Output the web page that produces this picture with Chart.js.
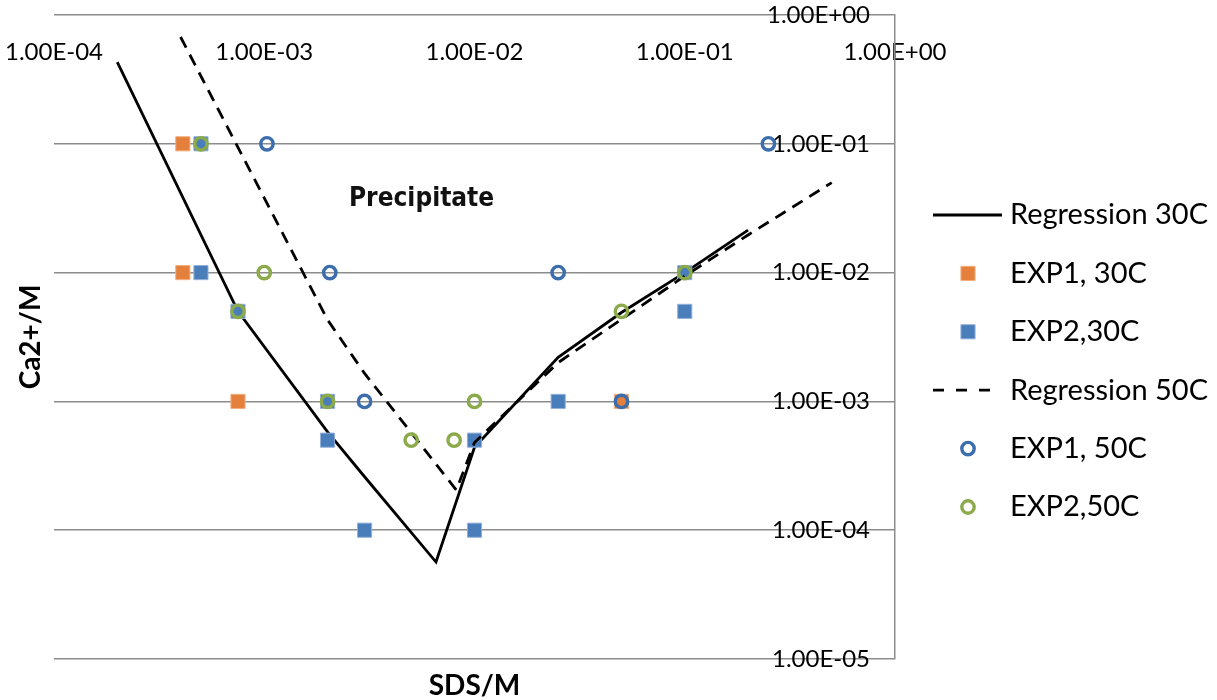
<!DOCTYPE html>
<html>
<head>
<meta charset="utf-8">
<script src="https://cdn.jsdelivr.net/npm/chart.js@4"></script>
<style>
  html, body { margin: 0; padding: 0; background: #fff; }
  #wrap { width: 1217px; height: 700px; position: relative; }
</style>
</head>
<body>
<div id="wrap"><canvas id="chart"></canvas></div>
<script>
// axis ticks
const xTickValues = [1e-4, 1e-3, 1e-2, 1e-1, 1];
const xTickLabels = ['1.00E-04', '1.00E-03', '1.00E-02', '1.00E-01', '1.00E+00'];
const yTickValues = [1e-5, 1e-4, 1e-3, 1e-2, 1e-1, 1];
const yTickLabels = ['1.00E-05', '1.00E-04', '1.00E-03', '1.00E-02', '1.00E-01', '1.00E+00'];

// regression curves
const reg30X = [2e-4, 7.5e-4, 2e-3, 3e-3, 6.56e-3, 1e-2, 2.5e-2, 5e-2, 1e-1, 2e-1];
const reg30Y = [0.43, 5.0e-3, 5.8e-4, 2.6e-4, 5.66e-5, 4.4e-4, 2.2e-3, 4.9e-3, 1.0e-2, 2.14e-2];
const reg50X = [4e-4, 2e-3, 3e-3, 8.2e-3, 1e-2, 2.5e-2, 1e-1, 2e-1, 5e-1];
const reg50Y = [0.675, 4.3e-3, 1.65e-3, 2.05e-4, 4.8e-4, 2.0e-3, 9.4e-3, 1.96e-2, 5.0e-2];

// experiments
const exp1_30X = [4.1e-4, 4.1e-4, 7.5e-4, 5e-2];
const exp1_30Y = [0.1, 0.01, 1e-3, 1e-3];
const exp2_30X = [5e-4, 5e-4, 7.5e-4, 2e-3, 2e-3, 3e-3, 1e-2, 1e-2, 2.5e-2, 1e-1, 1e-1];
const exp2_30Y = [0.1, 0.01, 5e-3, 1e-3, 5e-4, 1e-4, 5e-4, 1e-4, 1e-3, 5e-3, 0.01];
const exp1_50X = [1.03e-3, 2.05e-3, 3e-3, 2.5e-2, 5e-2, 0.25];
const exp1_50Y = [0.1, 0.01, 1e-3, 0.01, 1e-3, 0.1];
const exp2_50X = [5e-4, 1e-3, 7.5e-4, 2e-3, 5e-3, 8e-3, 1e-2, 5e-2, 1e-1];
const exp2_50Y = [0.1, 0.01, 5e-3, 1e-3, 5e-4, 5e-4, 1e-3, 5e-3, 0.01];

const noteText = 'Precipitate';
const noteX = 5.6e-3;
const noteY = 0.037;

const FONT = 'Lato';

function pts(xs, ys) {
  return xs.map((x, i) => ({ x, y: ys[i] }));
}

function lineSet(label, xs, ys, dash) {
  return {
    label, data: pts(xs, ys), showLine: true,
    borderColor: '#000', borderWidth: 2.8, borderDash: dash,
    pointRadius: 0, pointHoverRadius: 0, tension: 0, fill: false
  };
}

function markSet(label, xs, ys, style, fill, stroke, bw, r) {
  return {
    label, data: pts(xs, ys), showLine: false,
    pointStyle: style, pointRadius: r, pointHoverRadius: r,
    backgroundColor: fill, borderColor: stroke, borderWidth: bw
  };
}

const datasets = [
  lineSet('Regression 30C', reg30X, reg30Y, []),
  markSet('EXP1, 30C', exp1_30X, exp1_30Y, 'rect', '#E4803B', '#F2AE80', 1, 10),
  markSet('EXP2,30C', exp2_30X, exp2_30Y, 'rect', '#4A7EBB', '#92B1DA', 1, 10),
  lineSet('Regression 50C', reg50X, reg50Y, [12, 8]),
  markSet('EXP1, 50C', exp1_50X, exp1_50Y, 'circle', 'rgba(0,0,0,0)', '#3C6EAD', 3.4, 6.2),
  markSet('EXP2,50C', exp2_50X, exp2_50Y, 'circle', 'rgba(0,0,0,0)', '#8BAB4A', 3.4, 6.2)
];
// later series are painted on top, as in the original
datasets.forEach((d, i) => { d.order = datasets.length - 1 - i; });

const sideLegend = {
  id: 'sideLegend',
  afterDraw(chart) {
    const ctx = chart.ctx;
    ctx.save();
    ctx.font = '29px ' + FONT;
    ctx.textBaseline = 'middle';
    chart.data.datasets.forEach((ds, i) => {
      const y = 215 + i * 58.4;
      if (ds.showLine) {
        ctx.beginPath();
        ctx.setLineDash(ds.borderDash.length ? [11, 12] : []);
        ctx.lineWidth = 2.8;
        ctx.strokeStyle = ds.borderColor;
        ctx.moveTo(933, y);
        ctx.lineTo(1002, y);
        ctx.stroke();
        ctx.setLineDash([]);
      } else {
        ctx.beginPath();
        ctx.fillStyle = ds.backgroundColor;
        ctx.strokeStyle = ds.borderColor;
        ctx.lineWidth = ds.borderWidth;
        if (ds.pointStyle === 'rect') {
          const s = ds.pointRadius * Math.SQRT1_2;
          ctx.rect(968 - s, y - s, 2 * s, 2 * s);
        } else {
          ctx.arc(968, y, ds.pointRadius, 0, Math.PI * 2);
        }
        ctx.fill();
        ctx.stroke();
      }
      ctx.fillStyle = '#000';
      ctx.fillText(ds.label, 1010, y);
    });
    ctx.restore();
  }
};

const note = {
  id: 'note',
  afterDatasetsDraw(chart) {
    const ctx = chart.ctx;
    const px = chart.scales.x.getPixelForValue(noteX);
    const py = chart.scales.y.getPixelForValue(noteY);
    ctx.save();
    ctx.font = 'bold 26px "DejaVu Sans Condensed", "DejaVu Sans"';
    ctx.fillStyle = '#111';
    ctx.textAlign = 'center';
    ctx.textBaseline = 'middle';
    ctx.fillText(noteText, px, py);
    ctx.restore();
  }
};

const tickFont = { family: FONT, size: 24 };
const titleFont = { family: FONT, size: 28, weight: 'bold', lineHeight: 1 };

new Chart(document.getElementById('chart'), {
  type: 'scatter',
  data: { datasets },
  plugins: [note, sideLegend],
  options: {
    responsive: true,
    maintainAspectRatio: false,
    animation: false,
    layout: { padding: { left: 17, right: 322, top: 15, bottom: 0 } },
    plugins: { legend: { display: false }, tooltip: { enabled: false } },
    scales: {
      x: {
        type: 'logarithmic', position: 'top', min: 1e-4, max: 1,
        afterBuildTicks: s => { s.ticks = xTickValues.map(v => ({ value: v })); },
        afterFit: s => { s.height = 0; s.paddingLeft = 0; s.paddingRight = 0; },
        grid: { display: false, drawTicks: false },
        border: { display: false },
        ticks: {
          mirror: true, padding: 23, autoSkip: false, maxRotation: 0,
          color: '#000', font: tickFont,
          callback: (v, i) => xTickLabels[i]
        }
      },
      y: {
        type: 'logarithmic', position: 'right', min: 1e-5, max: 1,
        afterBuildTicks: s => { s.ticks = yTickValues.map(v => ({ value: v })); },
        afterFit: s => { s.width = 0; s.paddingTop = 0; s.paddingBottom = 0; },
        grid: { color: '#8c8c8c', lineWidth: 1.5, drawTicks: false },
        border: { display: true, color: '#8c8c8c', width: 1.5 },
        ticks: {
          mirror: true, padding: -25, autoSkip: false,
          color: '#000', font: tickFont,
          callback: (v, i) => yTickLabels[i]
        }
      },
      xTitle: {
        type: 'logarithmic', position: 'bottom', min: 1e-4, max: 1,
        grid: { display: false, drawTicks: false },
        border: { display: false },
        ticks: { display: false },
        title: { display: true, text: 'SDS/M', color: '#000', font: titleFont, padding: { top: 13, bottom: 0 } }
      },
      yTitle: {
        type: 'logarithmic', position: 'left', min: 1e-5, max: 1,
        grid: { display: false, drawTicks: false },
        border: { display: false },
        ticks: { display: false },
        title: { display: true, text: 'Ca2+/M', color: '#000', font: titleFont, padding: { top: 0, bottom: 9 } }
      }
    }
  }
});
</script>
</body>
</html>
